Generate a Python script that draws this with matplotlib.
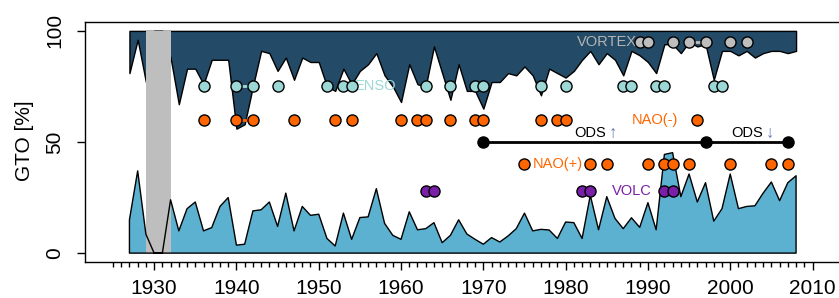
import numpy as np
import matplotlib.pyplot as plt

plt.rcParams['font.family'] = ['Liberation Sans', 'DejaVu Sans']

# Years of the record
years = np.arange(1927, 2009)

# Lower boundary of the top (dark) area, in %
upper = [81, 96, 77, 100, 100, 88, 67, 83, 83, 76,
         87, 87, 87, 56, 58, 75, 91, 90, 82, 88,
         78, 88, 86, 86, 75, 73, 83, 76, 82, 85,
         90, 80, 75, 68, 85, 76, 75, 93, 81, 69,
         85, 73, 73, 65, 77, 77, 81, 80, 84, 80,
         71, 83, 81, 79, 82, 87, 91, 85, 90, 87,
         80, 91, 89, 86, 81, 94, 94, 90, 95, 93,
         94, 78, 91, 91, 89, 91, 88, 90, 91, 91,
         90, 91]

# Top of the bottom (light blue) area, in %
lower = [15, 37, 8.5, 0, 0, 24, 10, 20, 23, 10,
         11.5, 21, 25, 3.6, 4, 19, 19.5, 23, 12, 27,
         10, 21, 17, 17.5, 6.6, 3.2, 18, 6.2, 16, 16.3,
         29, 13.4, 8, 6.2, 18.6, 10.5, 11, 13.7, 4.7, 8,
         15, 8.6, 6.2, 4, 7, 5, 7.7, 11, 18, 10,
         10.7, 10.4, 6.6, 14, 13.7, 6.6, 26, 10.5, 25.4, 15.6,
         11, 15.9, 11.6, 22.7, 10.5, 44.4, 45.2, 25.4, 35.6, 23,
         31.7, 14.4, 20, 35.6, 20, 21, 21.3, 27, 32, 23.6,
         31.7, 34.8]

# Event years
vortex_years = [1989, 1990, 1993, 1995, 1997, 2000, 2002]
enso_years = [1936, 1940, 1942, 1945, 1951, 1953, 1954, 1963, 1966, 1969,
              1970, 1977, 1980, 1987, 1988, 1991, 1992, 1998, 1999]
nao_minus_years = [1936, 1940, 1942, 1947, 1952, 1954, 1960, 1962, 1963,
                   1966, 1969, 1970, 1977, 1979, 1980, 1996]
nao_plus_years = [1975, 1983, 1985, 1990, 1992, 1993, 1995, 2000, 2005, 2007]
volc_years = [1963, 1964, 1982, 1983, 1992, 1993]
ods_years = [1970, 1997, 2007]

# multi-year events joined by a short line
enso_spans = [(1940, 1942)]
nao_minus_spans = [(1940, 1942)]
vortex_spans = [(1995, 1997)]

dark = '#234A66'
light = '#5BB1CF'
band = '#BEBEBE'
c_enso = '#9BD8D6'
c_nao = '#FF6600'
c_volc = '#7A1FA8'
c_vortex = '#BEBEBE'
c_arrow = '#6A78B8'

fig = plt.figure(figsize=(8.39, 2.98), dpi=100)
ax = fig.add_axes([85 / 839, 36 / 298, 755.5 / 839, 240 / 298])

# filled areas, gray band, then outlines
ax.fill_between(years, upper, 100, facecolor=dark, edgecolor='black', lw=1)
ax.fill_between(years, 0, lower, facecolor=light, lw=0)
ax.fill_between([1929, 1932], 0, 100, facecolor=band, lw=0)
ax.fill_between(years, 0, lower, facecolor='none', edgecolor='black', lw=1)

def events(yrs, level, color, spans=()):
    for a, b in spans:
        ax.plot([a, b], [level, level], color=color, lw=2, zorder=3)
    ax.plot(yrs, [level] * len(yrs), 'o', ms=8, mfc=color, mec='black',
            mew=1, zorder=4)

events(vortex_years, 95, c_vortex, vortex_spans)
events(enso_years, 75, c_enso, enso_spans)
events(nao_minus_years, 60, c_nao, nao_minus_spans)
events(nao_plus_years, 40, c_nao)
events(volc_years, 28, c_volc)

# ODS line
ax.plot([ods_years[0], ods_years[-1]], [50, 50], color='black', lw=2, zorder=3)
ax.plot(ods_years, [50] * 3, 'o', ms=8, color='black', zorder=4)

fs = 10.5
ax.text(1985.0, 95, 'VORTEX', color='#B4B4B4', fontsize=fs, ha='center', va='center')
ax.text(1956.9, 75, 'ENSO', color=c_enso, fontsize=fs, ha='center', va='center')
ax.text(1990.9, 60, 'NAO(-)', color=c_nao, fontsize=fs, ha='center', va='center')
ax.text(1979.0, 40, 'NAO(+)', color=c_nao, fontsize=fs, ha='center', va='center')
ax.text(1988.0, 28, 'VOLC', color=c_volc, fontsize=fs, ha='center', va='center')
ax.text(1983.0, 54, 'ODS', color='black', fontsize=fs, ha='center', va='center')
ax.text(1985.8, 54, '\u2191', color=c_arrow, fontsize=12, ha='center', va='center')
ax.text(2002.0, 54, 'ODS', color='black', fontsize=fs, ha='center', va='center')
ax.text(2004.8, 54, '\u2193', color=c_arrow, fontsize=12, ha='center', va='center')

ax.set_xlim(1921.6, 2013.4)
ax.set_ylim(-4, 104)
ax.spines['right'].set_visible(False)
for s in ['left', 'top', 'bottom']:
    ax.spines[s].set_linewidth(1)

ax.set_xticks(np.arange(1930, 2011, 10))
ax.set_xticks(np.arange(1925, 2010), minor=True)
ax.set_yticks([0, 50, 100])
ax.tick_params(axis='x', which='major', length=6, width=1, labelsize=15, pad=6)
ax.tick_params(axis='x', which='minor', length=3.5, width=1)
ax.tick_params(axis='y', length=6, width=1, labelsize=15, pad=9, labelrotation=90)
for lab in ax.get_yticklabels():
    lab.set_va('center')

fig.text(24 / 839, 1 - 141 / 298, 'GTO [%]', rotation=90, fontsize=15,
         ha='center', va='center')

plt.savefig('out.png', dpi=100)
